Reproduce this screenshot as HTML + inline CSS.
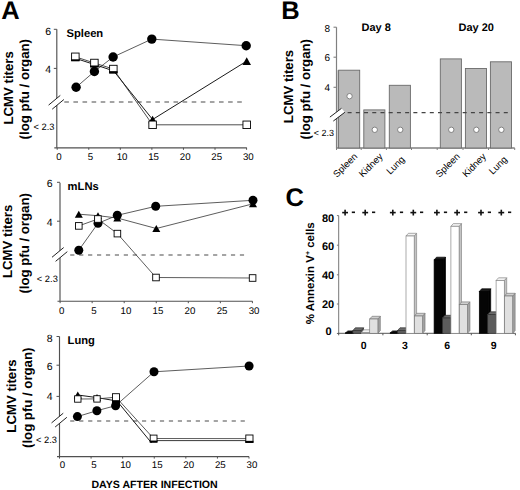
<!DOCTYPE html>
<html><head><meta charset="utf-8"><style>
html,body{margin:0;padding:0;background:#fff;}
svg{display:block;font-family:"Liberation Sans", sans-serif;text-rendering:geometricPrecision;}
</style></head><body>
<svg width="520" height="490" viewBox="0 0 520 490">
<rect width="520" height="490" fill="#fff"/>
<text x="1.30" y="18.70" font-size="25.5" font-weight="bold" text-anchor="start" fill="#000" >A</text>
<line x1="56.80" y1="29.30" x2="56.80" y2="147.80" stroke="#505050" stroke-width="1.15" />
<line x1="53.80" y1="29.30" x2="56.80" y2="29.30" stroke="#505050" stroke-width="1" />
<text x="51.00" y="35.40" font-size="10.5" font-weight="normal" text-anchor="end" fill="#000" >6</text>
<line x1="53.80" y1="68.40" x2="56.80" y2="68.40" stroke="#505050" stroke-width="1" />
<text x="51.00" y="72.80" font-size="10.5" font-weight="normal" text-anchor="end" fill="#000" >4</text>
<line x1="54.30" y1="147.80" x2="246.80" y2="147.80" stroke="#505050" stroke-width="1.15" />
<line x1="57.20" y1="147.80" x2="57.20" y2="149.80" stroke="#505050" stroke-width="1" />
<text x="58.90" y="159.70" font-size="9.7" font-weight="normal" text-anchor="middle" fill="#000" >0</text>
<line x1="88.77" y1="147.80" x2="88.77" y2="149.80" stroke="#505050" stroke-width="1" />
<text x="90.47" y="159.70" font-size="9.7" font-weight="normal" text-anchor="middle" fill="#000" >5</text>
<line x1="120.33" y1="147.80" x2="120.33" y2="149.80" stroke="#505050" stroke-width="1" />
<text x="122.03" y="159.70" font-size="9.7" font-weight="normal" text-anchor="middle" fill="#000" >10</text>
<line x1="151.89" y1="147.80" x2="151.89" y2="149.80" stroke="#505050" stroke-width="1" />
<text x="153.59" y="159.70" font-size="9.7" font-weight="normal" text-anchor="middle" fill="#000" >15</text>
<line x1="183.46" y1="147.80" x2="183.46" y2="149.80" stroke="#505050" stroke-width="1" />
<text x="185.16" y="159.70" font-size="9.7" font-weight="normal" text-anchor="middle" fill="#000" >20</text>
<line x1="215.02" y1="147.80" x2="215.02" y2="149.80" stroke="#505050" stroke-width="1" />
<text x="216.72" y="159.70" font-size="9.7" font-weight="normal" text-anchor="middle" fill="#000" >25</text>
<line x1="246.59" y1="147.80" x2="246.59" y2="149.80" stroke="#505050" stroke-width="1" />
<text x="248.29" y="159.70" font-size="9.7" font-weight="normal" text-anchor="middle" fill="#000" >30</text>
<line x1="64.30" y1="102.00" x2="244.50" y2="102.00" stroke="#4a4a4a" stroke-width="1.2" stroke-dasharray="4.6 4.5"/>
<polygon points="48.60,105.10 60.30,95.40 63.90,99.50 52.20,109.20" fill="#fff" stroke="none" stroke-width="1"/>
<line x1="48.60" y1="105.10" x2="60.30" y2="95.40" stroke="#222" stroke-width="1.0" />
<line x1="52.20" y1="109.20" x2="63.90" y2="99.50" stroke="#222" stroke-width="1.0" />
<text x="54.50" y="130.40" font-size="9.3" font-weight="normal" text-anchor="end" fill="#000" >&lt; 2.3</text>
<text x="66.50" y="37.30" font-size="11.2" font-weight="bold" text-anchor="start" fill="#000" >Spleen</text>
<text x="12.80" y="87.85" font-size="13.2" font-weight="bold" text-anchor="middle" fill="#000" transform="rotate(-90 12.80 87.85)" >LCMV titers</text>
<text x="28.50" y="89.25" font-size="13.2" font-weight="bold" text-anchor="middle" fill="#000" transform="rotate(-90 28.50 89.25)" >(log pfu / organ)</text>
<polyline points="76.10,87.30 94.40,71.50 113.10,57.00 151.80,39.10 246.20,45.70" fill="none" stroke="#333" stroke-width="0.8" stroke-linejoin="round"/>
<polyline points="75.35,58.30 94.40,64.50 113.60,70.90 152.60,119.50 246.70,61.10" fill="none" stroke="#000" stroke-width="0.9" stroke-linejoin="round"/>
<polyline points="75.35,56.80 94.40,63.00 113.35,69.05 152.60,124.80 246.70,124.80" fill="none" stroke="#222" stroke-width="0.8" stroke-linejoin="round"/>
<polygon points="152.60,115.70 156.90,123.30 148.30,123.30" fill="#000" stroke="none" stroke-width="1"/>
<polygon points="246.70,57.30 251.00,64.90 242.40,64.90" fill="#000" stroke="none" stroke-width="1"/>
<rect x="71.60" y="53.05" width="7.5" height="7.5" fill="#fff" stroke="#000" stroke-width="0.9"/>
<rect x="71.15" y="59.30" width="8.40" height="2.00" fill="#000"/>
<rect x="90.65" y="59.25" width="7.5" height="7.5" fill="#fff" stroke="#000" stroke-width="0.9"/>
<rect x="90.20" y="65.50" width="8.40" height="2.00" fill="#000"/>
<rect x="109.60" y="65.30" width="7.5" height="7.5" fill="#fff" stroke="#000" stroke-width="0.9"/>
<rect x="109.15" y="71.15" width="8.40" height="2.40" fill="#000"/>
<rect x="148.85" y="121.05" width="7.5" height="7.5" fill="#fff" stroke="#000" stroke-width="0.9"/>
<rect x="242.95" y="121.05" width="7.5" height="7.5" fill="#fff" stroke="#000" stroke-width="0.9"/>
<circle cx="76.10" cy="87.30" r="4.7" fill="#000" stroke="none" stroke-width="1"/>
<circle cx="94.40" cy="71.50" r="4.7" fill="#000" stroke="none" stroke-width="1"/>
<circle cx="113.10" cy="57.00" r="4.7" fill="#000" stroke="none" stroke-width="1"/>
<circle cx="151.80" cy="39.10" r="4.7" fill="#000" stroke="none" stroke-width="1"/>
<circle cx="246.20" cy="45.70" r="4.7" fill="#000" stroke="none" stroke-width="1"/>
<line x1="60.00" y1="182.70" x2="60.00" y2="301.20" stroke="#505050" stroke-width="1.15" />
<line x1="57.00" y1="182.30" x2="60.00" y2="182.30" stroke="#505050" stroke-width="1" />
<text x="52.70" y="186.80" font-size="10.5" font-weight="normal" text-anchor="end" fill="#000" >6</text>
<line x1="57.00" y1="221.20" x2="60.00" y2="221.20" stroke="#505050" stroke-width="1" />
<text x="52.70" y="226.10" font-size="10.5" font-weight="normal" text-anchor="end" fill="#000" >4</text>
<line x1="57.50" y1="301.20" x2="252.50" y2="301.20" stroke="#505050" stroke-width="1.15" />
<line x1="60.10" y1="301.20" x2="60.10" y2="303.20" stroke="#505050" stroke-width="1" />
<text x="61.80" y="313.90" font-size="9.7" font-weight="normal" text-anchor="middle" fill="#000" >0</text>
<line x1="92.15" y1="301.20" x2="92.15" y2="303.20" stroke="#505050" stroke-width="1" />
<text x="93.85" y="313.90" font-size="9.7" font-weight="normal" text-anchor="middle" fill="#000" >5</text>
<line x1="124.20" y1="301.20" x2="124.20" y2="303.20" stroke="#505050" stroke-width="1" />
<text x="125.90" y="313.90" font-size="9.7" font-weight="normal" text-anchor="middle" fill="#000" >10</text>
<line x1="156.25" y1="301.20" x2="156.25" y2="303.20" stroke="#505050" stroke-width="1" />
<text x="157.95" y="313.90" font-size="9.7" font-weight="normal" text-anchor="middle" fill="#000" >15</text>
<line x1="188.30" y1="301.20" x2="188.30" y2="303.20" stroke="#505050" stroke-width="1" />
<text x="190.00" y="313.90" font-size="9.7" font-weight="normal" text-anchor="middle" fill="#000" >20</text>
<line x1="220.35" y1="301.20" x2="220.35" y2="303.20" stroke="#505050" stroke-width="1" />
<text x="222.05" y="313.90" font-size="9.7" font-weight="normal" text-anchor="middle" fill="#000" >25</text>
<line x1="252.40" y1="301.20" x2="252.40" y2="303.20" stroke="#505050" stroke-width="1" />
<text x="254.10" y="313.90" font-size="9.7" font-weight="normal" text-anchor="middle" fill="#000" >30</text>
<line x1="70.20" y1="255.00" x2="247.50" y2="255.00" stroke="#4a4a4a" stroke-width="1.2" stroke-dasharray="4.2 4.73"/>
<polygon points="52.00,257.25 63.70,247.55 67.30,251.65 55.60,261.35" fill="#fff" stroke="none" stroke-width="1"/>
<line x1="52.00" y1="257.25" x2="63.70" y2="247.55" stroke="#222" stroke-width="1.0" />
<line x1="55.60" y1="261.35" x2="67.30" y2="251.65" stroke="#222" stroke-width="1.0" />
<text x="57.80" y="282.20" font-size="9.3" font-weight="normal" text-anchor="end" fill="#000" >&lt; 2.3</text>
<text x="67.60" y="189.80" font-size="11.2" font-weight="bold" text-anchor="start" fill="#000" >mLNs</text>
<text x="12.30" y="241.40" font-size="13.2" font-weight="bold" text-anchor="middle" fill="#000" transform="rotate(-90 12.30 241.40)" >LCMV titers</text>
<text x="28.70" y="243.35" font-size="13.2" font-weight="bold" text-anchor="middle" fill="#000" transform="rotate(-90 28.70 243.35)" >(log pfu / organ)</text>
<polyline points="78.80,250.20 98.00,223.30 117.30,215.30 155.70,206.30 253.00,200.30" fill="none" stroke="#333" stroke-width="0.8" stroke-linejoin="round"/>
<polyline points="78.80,214.20 98.00,215.70 117.30,218.00 156.30,228.50 253.00,203.80" fill="none" stroke="#333" stroke-width="0.8" stroke-linejoin="round"/>
<polyline points="78.80,225.90 97.90,219.00 117.40,233.60 156.00,277.50 252.60,278.00" fill="none" stroke="#333" stroke-width="0.8" stroke-linejoin="round"/>
<polygon points="78.80,210.70 82.80,217.70 74.80,217.70" fill="#000" stroke="none" stroke-width="1"/>
<polygon points="98.00,212.20 102.00,219.20 94.00,219.20" fill="#000" stroke="none" stroke-width="1"/>
<polygon points="117.30,214.50 121.30,221.50 113.30,221.50" fill="#000" stroke="none" stroke-width="1"/>
<polygon points="156.30,225.00 160.30,232.00 152.30,232.00" fill="#000" stroke="none" stroke-width="1"/>
<polygon points="253.00,200.30 257.00,207.30 249.00,207.30" fill="#000" stroke="none" stroke-width="1"/>
<circle cx="78.80" cy="250.20" r="4.5" fill="#000" stroke="none" stroke-width="1"/>
<circle cx="98.00" cy="223.30" r="4.5" fill="#000" stroke="none" stroke-width="1"/>
<circle cx="117.30" cy="215.30" r="4.5" fill="#000" stroke="none" stroke-width="1"/>
<circle cx="155.70" cy="206.30" r="4.5" fill="#000" stroke="none" stroke-width="1"/>
<circle cx="253.00" cy="200.30" r="4.5" fill="#000" stroke="none" stroke-width="1"/>
<rect x="75.50" y="222.60" width="6.6" height="6.6" fill="#fff" stroke="#000" stroke-width="0.9"/>
<rect x="94.60" y="215.70" width="6.6" height="6.6" fill="#fff" stroke="#000" stroke-width="0.9"/>
<rect x="114.10" y="230.30" width="6.6" height="6.6" fill="#fff" stroke="#000" stroke-width="0.9"/>
<rect x="152.70" y="274.20" width="6.6" height="6.6" fill="#fff" stroke="#000" stroke-width="0.9"/>
<rect x="249.30" y="274.70" width="6.6" height="6.6" fill="#fff" stroke="#000" stroke-width="0.9"/>
<line x1="59.50" y1="336.50" x2="59.50" y2="456.60" stroke="#505050" stroke-width="1.15" />
<line x1="56.50" y1="336.50" x2="59.50" y2="336.50" stroke="#505050" stroke-width="1" />
<text x="52.70" y="341.90" font-size="10.5" font-weight="normal" text-anchor="end" fill="#000" >8</text>
<line x1="56.50" y1="365.20" x2="59.50" y2="365.20" stroke="#505050" stroke-width="1" />
<text x="52.70" y="370.10" font-size="10.5" font-weight="normal" text-anchor="end" fill="#000" >6</text>
<line x1="56.50" y1="396.40" x2="59.50" y2="396.40" stroke="#505050" stroke-width="1" />
<text x="52.70" y="400.30" font-size="10.5" font-weight="normal" text-anchor="end" fill="#000" >4</text>
<line x1="57.00" y1="456.60" x2="249.00" y2="456.60" stroke="#505050" stroke-width="1.15" />
<line x1="59.50" y1="456.60" x2="59.50" y2="458.60" stroke="#505050" stroke-width="1" />
<text x="62.40" y="468.40" font-size="9.7" font-weight="normal" text-anchor="middle" fill="#000" >0</text>
<line x1="91.09" y1="456.60" x2="91.09" y2="458.60" stroke="#505050" stroke-width="1" />
<text x="93.99" y="468.40" font-size="9.7" font-weight="normal" text-anchor="middle" fill="#000" >5</text>
<line x1="122.67" y1="456.60" x2="122.67" y2="458.60" stroke="#505050" stroke-width="1" />
<text x="125.57" y="468.40" font-size="9.7" font-weight="normal" text-anchor="middle" fill="#000" >10</text>
<line x1="154.25" y1="456.60" x2="154.25" y2="458.60" stroke="#505050" stroke-width="1" />
<text x="157.16" y="468.40" font-size="9.7" font-weight="normal" text-anchor="middle" fill="#000" >15</text>
<line x1="185.84" y1="456.60" x2="185.84" y2="458.60" stroke="#505050" stroke-width="1" />
<text x="188.74" y="468.40" font-size="9.7" font-weight="normal" text-anchor="middle" fill="#000" >20</text>
<line x1="217.43" y1="456.60" x2="217.43" y2="458.60" stroke="#505050" stroke-width="1" />
<text x="220.33" y="468.40" font-size="9.7" font-weight="normal" text-anchor="middle" fill="#000" >25</text>
<line x1="249.01" y1="456.60" x2="249.01" y2="458.60" stroke="#505050" stroke-width="1" />
<text x="251.91" y="468.40" font-size="9.7" font-weight="normal" text-anchor="middle" fill="#000" >30</text>
<line x1="70.20" y1="421.00" x2="245.70" y2="421.00" stroke="#4a4a4a" stroke-width="1.2" stroke-dasharray="4.2 4.77"/>
<polygon points="51.55,422.90 63.25,413.20 66.85,417.30 55.15,427.00" fill="#fff" stroke="none" stroke-width="1"/>
<line x1="51.55" y1="422.90" x2="63.25" y2="413.20" stroke="#222" stroke-width="1.0" />
<line x1="55.15" y1="427.00" x2="66.85" y2="417.30" stroke="#222" stroke-width="1.0" />
<text x="56.90" y="443.00" font-size="9.3" font-weight="normal" text-anchor="end" fill="#000" >&lt; 2.3</text>
<text x="67.60" y="344.00" font-size="11.2" font-weight="bold" text-anchor="start" fill="#000" >Lung</text>
<text x="16.40" y="396.00" font-size="13.2" font-weight="bold" text-anchor="middle" fill="#000" transform="rotate(-90 16.40 396.00)" >LCMV titers</text>
<text x="32.30" y="397.80" font-size="13.2" font-weight="bold" text-anchor="middle" fill="#000" transform="rotate(-90 32.30 397.80)" >(log pfu / organ)</text>
<polyline points="77.40,416.60 96.90,410.70 115.60,405.70 154.00,371.80 249.10,366.00" fill="none" stroke="#333" stroke-width="0.8" stroke-linejoin="round"/>
<polyline points="77.80,395.00 97.00,397.60 117.00,401.00 151.60,443.00" fill="none" stroke="#000" stroke-width="0.9" stroke-linejoin="round"/>
<polyline points="153.60,440.60 249.40,440.60" fill="none" stroke="#222" stroke-width="0.9" stroke-linejoin="round"/>
<polyline points="77.80,399.00 97.00,398.90 116.00,397.20 153.60,438.50 249.40,438.60" fill="none" stroke="#333" stroke-width="0.8" stroke-linejoin="round"/>
<polygon points="77.80,391.50 81.80,398.50 73.80,398.50" fill="#000" stroke="none" stroke-width="1"/>
<polygon points="97.00,394.10 101.00,401.10 93.00,401.10" fill="#000" stroke="none" stroke-width="1"/>
<circle cx="77.40" cy="416.60" r="4.5" fill="#000" stroke="none" stroke-width="1"/>
<circle cx="96.90" cy="410.70" r="4.5" fill="#000" stroke="none" stroke-width="1"/>
<circle cx="115.60" cy="405.70" r="4.5" fill="#000" stroke="none" stroke-width="1"/>
<circle cx="154.00" cy="371.80" r="4.5" fill="#000" stroke="none" stroke-width="1"/>
<circle cx="249.10" cy="366.00" r="4.5" fill="#000" stroke="none" stroke-width="1"/>
<rect x="112" y="399.6" width="8" height="5.5" fill="#000"/>
<rect x="74.60" y="395.80" width="6.4" height="6.4" fill="#fff" stroke="#000" stroke-width="0.9"/>
<rect x="93.80" y="395.70" width="6.4" height="6.4" fill="#fff" stroke="#000" stroke-width="0.9"/>
<rect x="112.50" y="393.70" width="7.0" height="7.0" fill="#fff" stroke="#000" stroke-width="0.9"/>
<rect x="150.20" y="435.10" width="6.8" height="6.8" fill="#fff" stroke="#000" stroke-width="0.9"/>
<rect x="149.75" y="440.55" width="7.70" height="2.10" fill="#000"/>
<rect x="245.80" y="435.00" width="7.2" height="7.2" fill="#fff" stroke="#000" stroke-width="0.9"/>
<rect x="245.35" y="440.85" width="8.10" height="2.10" fill="#000"/>
<text x="91.40" y="487.90" font-size="10.6" font-weight="bold" text-anchor="start" fill="#000" >DAYS AFTER INFECTION</text>
<text x="281.30" y="18.60" font-size="25.5" font-weight="bold" text-anchor="start" fill="#000" >B</text>
<rect x="336.50" y="70.2" width="2.3" height="77.8" fill="#d0d0d0"/>
<line x1="336.50" y1="27.20" x2="336.50" y2="148.50" stroke="#808080" stroke-width="1.2" />
<line x1="333.50" y1="27.20" x2="336.50" y2="27.20" stroke="#808080" stroke-width="1.1" />
<text x="330.00" y="31.80" font-size="10" font-weight="normal" text-anchor="end" fill="#000" >8</text>
<line x1="333.50" y1="57.20" x2="336.50" y2="57.20" stroke="#808080" stroke-width="1.1" />
<text x="330.00" y="60.80" font-size="10" font-weight="normal" text-anchor="end" fill="#000" >6</text>
<line x1="333.50" y1="87.30" x2="336.50" y2="87.30" stroke="#808080" stroke-width="1.1" />
<text x="330.00" y="90.80" font-size="10" font-weight="normal" text-anchor="end" fill="#000" >4</text>
<line x1="336.50" y1="148.00" x2="514.70" y2="148.00" stroke="#808080" stroke-width="1.3" />
<line x1="336.50" y1="148.00" x2="336.50" y2="150.00" stroke="#808080" stroke-width="1" />
<line x1="361.20" y1="148.00" x2="361.20" y2="150.00" stroke="#808080" stroke-width="1" />
<line x1="386.40" y1="148.00" x2="386.40" y2="150.00" stroke="#808080" stroke-width="1" />
<line x1="411.50" y1="148.00" x2="411.50" y2="150.00" stroke="#808080" stroke-width="1" />
<line x1="437.20" y1="148.00" x2="437.20" y2="150.00" stroke="#808080" stroke-width="1" />
<line x1="463.00" y1="148.00" x2="463.00" y2="150.00" stroke="#808080" stroke-width="1" />
<line x1="488.50" y1="148.00" x2="488.50" y2="150.00" stroke="#808080" stroke-width="1" />
<line x1="514.70" y1="148.00" x2="514.70" y2="150.00" stroke="#808080" stroke-width="1" />
<rect x="338.60" y="70.20" width="21.1" height="77.80" fill="#bababa" stroke="#6a6a6a" stroke-width="0.9"/>
<circle cx="349.55" cy="96.20" r="2.7" fill="#fff" stroke="#777" stroke-width="0.9"/>
<rect x="363.80" y="109.90" width="21.1" height="38.10" fill="#bababa" stroke="#6a6a6a" stroke-width="0.9"/>
<circle cx="374.75" cy="129.80" r="2.7" fill="#fff" stroke="#777" stroke-width="0.9"/>
<rect x="389.30" y="85.30" width="21.1" height="62.70" fill="#bababa" stroke="#6a6a6a" stroke-width="0.9"/>
<circle cx="400.25" cy="129.80" r="2.7" fill="#fff" stroke="#777" stroke-width="0.9"/>
<rect x="440.30" y="58.90" width="21.1" height="89.10" fill="#bababa" stroke="#6a6a6a" stroke-width="0.9"/>
<circle cx="451.25" cy="129.80" r="2.7" fill="#fff" stroke="#777" stroke-width="0.9"/>
<rect x="465.40" y="68.50" width="21.1" height="79.50" fill="#bababa" stroke="#6a6a6a" stroke-width="0.9"/>
<circle cx="476.35" cy="129.80" r="2.7" fill="#fff" stroke="#777" stroke-width="0.9"/>
<rect x="490.40" y="61.80" width="21.1" height="86.20" fill="#bababa" stroke="#6a6a6a" stroke-width="0.9"/>
<circle cx="501.35" cy="129.80" r="2.7" fill="#fff" stroke="#777" stroke-width="0.9"/>
<line x1="347.60" y1="112.70" x2="509.40" y2="112.70" stroke="#444" stroke-width="1.3" stroke-dasharray="4.0 4.22"/>
<polygon points="329.90,117.10 341.50,108.30 344.90,112.25 333.30,121.05" fill="#fff" stroke="none" stroke-width="1"/>
<line x1="329.90" y1="117.10" x2="341.50" y2="108.30" stroke="#222" stroke-width="1.0" />
<line x1="333.30" y1="121.05" x2="344.90" y2="112.25" stroke="#222" stroke-width="1.0" />
<text x="334.00" y="136.20" font-size="9" font-weight="normal" text-anchor="end" fill="#000" >&lt; 2.3</text>
<text x="361.50" y="31.30" font-size="11" font-weight="bold" text-anchor="start" fill="#000" >Day 8</text>
<text x="458.50" y="30.50" font-size="11" font-weight="bold" text-anchor="start" fill="#000" >Day 20</text>
<text x="347.45" y="167.50" font-size="9.5" font-weight="normal" text-anchor="middle" fill="#000" transform="rotate(-45 347.45 167.50)" >Spleen</text>
<text x="373.15" y="167.50" font-size="9.5" font-weight="normal" text-anchor="middle" fill="#000" transform="rotate(-45 373.15 167.50)" >Kidney</text>
<text x="397.65" y="167.50" font-size="9.5" font-weight="normal" text-anchor="middle" fill="#000" transform="rotate(-45 397.65 167.50)" >Lung</text>
<text x="449.95" y="167.50" font-size="9.5" font-weight="normal" text-anchor="middle" fill="#000" transform="rotate(-45 449.95 167.50)" >Spleen</text>
<text x="476.45" y="167.50" font-size="9.5" font-weight="normal" text-anchor="middle" fill="#000" transform="rotate(-45 476.45 167.50)" >Kidney</text>
<text x="500.25" y="167.50" font-size="9.5" font-weight="normal" text-anchor="middle" fill="#000" transform="rotate(-45 500.25 167.50)" >Lung</text>
<text x="293.30" y="86.50" font-size="13.2" font-weight="bold" text-anchor="middle" fill="#000" transform="rotate(-90 293.30 86.50)" >LCMV titers</text>
<text x="309.80" y="89.20" font-size="13.2" font-weight="bold" text-anchor="middle" fill="#000" transform="rotate(-90 309.80 89.20)" >(log pfu / organ)</text>
<text x="285.50" y="205.70" font-size="25.5" font-weight="bold" text-anchor="start" fill="#000" >C</text>
<line x1="338.70" y1="215.60" x2="338.70" y2="333.50" stroke="#777" stroke-width="1" />
<line x1="336.90" y1="215.60" x2="338.70" y2="215.60" stroke="#777" stroke-width="1" />
<text x="334.20" y="222.20" font-size="11" font-weight="bold" text-anchor="end" fill="#000" >80</text>
<line x1="336.90" y1="245.20" x2="338.70" y2="245.20" stroke="#777" stroke-width="1" />
<text x="334.20" y="249.80" font-size="11" font-weight="bold" text-anchor="end" fill="#000" >60</text>
<line x1="336.90" y1="274.80" x2="338.70" y2="274.80" stroke="#777" stroke-width="1" />
<text x="334.20" y="278.70" font-size="11" font-weight="bold" text-anchor="end" fill="#000" >40</text>
<line x1="336.90" y1="304.00" x2="338.70" y2="304.00" stroke="#777" stroke-width="1" />
<text x="334.20" y="308.30" font-size="11" font-weight="bold" text-anchor="end" fill="#000" >20</text>
<line x1="336.90" y1="333.50" x2="338.70" y2="333.50" stroke="#777" stroke-width="1" />
<text x="331.50" y="335.20" font-size="11" font-weight="bold" text-anchor="end" fill="#000" >0</text>
<line x1="337.70" y1="333.30" x2="515.40" y2="333.30" stroke="#555" stroke-width="1" />
<line x1="338.70" y1="333.30" x2="338.70" y2="335.30" stroke="#555" stroke-width="1" />
<line x1="382.90" y1="333.30" x2="382.90" y2="335.30" stroke="#555" stroke-width="1" />
<line x1="427.20" y1="333.30" x2="427.20" y2="335.30" stroke="#555" stroke-width="1" />
<line x1="471.30" y1="333.30" x2="471.30" y2="335.30" stroke="#555" stroke-width="1" />
<line x1="515.40" y1="333.30" x2="515.40" y2="335.30" stroke="#555" stroke-width="1" />
<text x="363.60" y="349.00" font-size="10.5" font-weight="bold" text-anchor="middle" fill="#000" >0</text>
<text x="404.80" y="349.00" font-size="10.5" font-weight="bold" text-anchor="middle" fill="#000" >3</text>
<text x="447.10" y="349.00" font-size="10.5" font-weight="bold" text-anchor="middle" fill="#000" >6</text>
<text x="493.60" y="349.00" font-size="10.5" font-weight="bold" text-anchor="middle" fill="#000" >9</text>
<rect x="342.20" y="211.80" width="5.8" height="1.6" fill="#111"/>
<rect x="344.30" y="209.70" width="1.6" height="5.8" fill="#111"/>
<rect x="362.30" y="211.80" width="5.8" height="1.6" fill="#111"/>
<rect x="364.40" y="209.70" width="1.6" height="5.8" fill="#111"/>
<rect x="389.90" y="211.80" width="5.8" height="1.6" fill="#111"/>
<rect x="392.00" y="209.70" width="1.6" height="5.8" fill="#111"/>
<rect x="410.40" y="211.80" width="5.8" height="1.6" fill="#111"/>
<rect x="412.50" y="209.70" width="1.6" height="5.8" fill="#111"/>
<rect x="434.00" y="211.80" width="5.8" height="1.6" fill="#111"/>
<rect x="436.10" y="209.70" width="1.6" height="5.8" fill="#111"/>
<rect x="454.20" y="211.80" width="5.8" height="1.6" fill="#111"/>
<rect x="456.30" y="209.70" width="1.6" height="5.8" fill="#111"/>
<rect x="478.10" y="211.80" width="5.8" height="1.6" fill="#111"/>
<rect x="480.20" y="209.70" width="1.6" height="5.8" fill="#111"/>
<rect x="498.40" y="211.80" width="5.8" height="1.6" fill="#111"/>
<rect x="500.50" y="209.70" width="1.6" height="5.8" fill="#111"/>
<rect x="351.80" y="211.50" width="3.2" height="1.6" fill="#111"/>
<rect x="372.00" y="211.50" width="3.2" height="1.6" fill="#111"/>
<rect x="399.90" y="211.50" width="3.2" height="1.6" fill="#111"/>
<rect x="420.00" y="211.50" width="3.2" height="1.6" fill="#111"/>
<rect x="443.90" y="211.50" width="3.2" height="1.6" fill="#111"/>
<rect x="464.10" y="211.50" width="3.2" height="1.6" fill="#111"/>
<rect x="487.80" y="211.50" width="3.2" height="1.6" fill="#111"/>
<rect x="508.00" y="211.50" width="3.2" height="1.6" fill="#111"/>
<text x="313.9" y="273.3" font-size="11.5" font-weight="bold" text-anchor="middle" transform="rotate(-90 313.9 273.3)">% Annexin V<tspan font-size="7" dy="-4">+</tspan><tspan dy="4"> cells</tspan></text>
<polygon points="353.30,332.90 355.70,330.90 355.70,331.30 353.30,333.30" fill="#000" stroke="#000" stroke-width="0.7"/>
<polygon points="345.50,332.90 347.90,330.90 355.70,330.90 353.30,332.90" fill="#1a1a1a" stroke="#000" stroke-width="0.7"/>
<rect x="345.50" y="332.90" width="7.8" height="0.40" fill="#050505" stroke="#000" stroke-width="0.7"/>
<polygon points="361.10,330.50 363.50,327.80 363.50,330.60 361.10,333.30" fill="#444" stroke="#333" stroke-width="0.7"/>
<polygon points="352.90,330.50 355.30,327.80 363.50,327.80 361.10,330.50" fill="#6a6a6a" stroke="#333" stroke-width="0.7"/>
<rect x="352.90" y="330.50" width="8.2" height="2.80" fill="#5c5c5c" stroke="#333" stroke-width="0.7"/>
<polygon points="369.50,332.50 371.90,329.80 371.90,330.60 369.50,333.30" fill="#c4c4c4" stroke="#888" stroke-width="0.7"/>
<polygon points="361.30,332.50 363.70,329.80 371.90,329.80 369.50,332.50" fill="#f2f2f2" stroke="#888" stroke-width="0.7"/>
<rect x="361.30" y="332.50" width="8.2" height="0.80" fill="#fff" stroke="#888" stroke-width="0.7"/>
<polygon points="377.90,319.00 380.30,316.30 380.30,330.60 377.90,333.30" fill="#a4a4a4" stroke="#7a7a7a" stroke-width="0.7"/>
<polygon points="369.70,319.00 372.10,316.30 380.30,316.30 377.90,319.00" fill="#cfcfcf" stroke="#7a7a7a" stroke-width="0.7"/>
<rect x="369.70" y="319.00" width="8.2" height="14.30" fill="#e0e0e0" stroke="#7a7a7a" stroke-width="0.7"/>
<polygon points="398.00,332.90 400.40,330.90 400.40,331.30 398.00,333.30" fill="#000" stroke="#000" stroke-width="0.7"/>
<polygon points="390.20,332.90 392.60,330.90 400.40,330.90 398.00,332.90" fill="#1a1a1a" stroke="#000" stroke-width="0.7"/>
<rect x="390.20" y="332.90" width="7.8" height="0.40" fill="#050505" stroke="#000" stroke-width="0.7"/>
<polygon points="405.80,330.50 408.20,327.80 408.20,330.60 405.80,333.30" fill="#444" stroke="#333" stroke-width="0.7"/>
<polygon points="397.60,330.50 400.00,327.80 408.20,327.80 405.80,330.50" fill="#6a6a6a" stroke="#333" stroke-width="0.7"/>
<rect x="397.60" y="330.50" width="8.2" height="2.80" fill="#5c5c5c" stroke="#333" stroke-width="0.7"/>
<polygon points="414.20,236.00 416.60,233.30 416.60,330.60 414.20,333.30" fill="#c4c4c4" stroke="#888" stroke-width="0.7"/>
<polygon points="406.00,236.00 408.40,233.30 416.60,233.30 414.20,236.00" fill="#f2f2f2" stroke="#888" stroke-width="0.7"/>
<rect x="406.00" y="236.00" width="8.2" height="97.30" fill="#fff" stroke="#888" stroke-width="0.7"/>
<polygon points="422.60,316.00 425.00,313.30 425.00,330.60 422.60,333.30" fill="#a4a4a4" stroke="#7a7a7a" stroke-width="0.7"/>
<polygon points="414.40,316.00 416.80,313.30 425.00,313.30 422.60,316.00" fill="#cfcfcf" stroke="#7a7a7a" stroke-width="0.7"/>
<rect x="414.40" y="316.00" width="8.2" height="17.30" fill="#e0e0e0" stroke="#7a7a7a" stroke-width="0.7"/>
<polygon points="443.10,259.90 445.50,257.20 445.50,330.60 443.10,333.30" fill="#000" stroke="#000" stroke-width="0.7"/>
<polygon points="434.10,259.90 436.50,257.20 445.50,257.20 443.10,259.90" fill="#1a1a1a" stroke="#000" stroke-width="0.7"/>
<rect x="434.10" y="259.90" width="9.0" height="73.40" fill="#050505" stroke="#000" stroke-width="0.7"/>
<polygon points="450.70,318.00 453.10,315.30 453.10,330.60 450.70,333.30" fill="#444" stroke="#333" stroke-width="0.7"/>
<polygon points="442.50,318.00 444.90,315.30 453.10,315.30 450.70,318.00" fill="#6a6a6a" stroke="#333" stroke-width="0.7"/>
<rect x="442.50" y="318.00" width="8.2" height="15.30" fill="#5c5c5c" stroke="#333" stroke-width="0.7"/>
<polygon points="459.10,226.30 461.50,223.60 461.50,330.60 459.10,333.30" fill="#c4c4c4" stroke="#888" stroke-width="0.7"/>
<polygon points="450.90,226.30 453.30,223.60 461.50,223.60 459.10,226.30" fill="#f2f2f2" stroke="#888" stroke-width="0.7"/>
<rect x="450.90" y="226.30" width="8.2" height="107.00" fill="#fff" stroke="#888" stroke-width="0.7"/>
<polygon points="467.50,304.60 469.90,301.90 469.90,330.60 467.50,333.30" fill="#a4a4a4" stroke="#7a7a7a" stroke-width="0.7"/>
<polygon points="459.30,304.60 461.70,301.90 469.90,301.90 467.50,304.60" fill="#cfcfcf" stroke="#7a7a7a" stroke-width="0.7"/>
<rect x="459.30" y="304.60" width="8.2" height="28.70" fill="#e0e0e0" stroke="#7a7a7a" stroke-width="0.7"/>
<polygon points="488.30,291.50 490.70,288.80 490.70,330.60 488.30,333.30" fill="#000" stroke="#000" stroke-width="0.7"/>
<polygon points="479.30,291.50 481.70,288.80 490.70,288.80 488.30,291.50" fill="#1a1a1a" stroke="#000" stroke-width="0.7"/>
<rect x="479.30" y="291.50" width="9.0" height="41.80" fill="#050505" stroke="#000" stroke-width="0.7"/>
<polygon points="495.90,314.50 498.30,311.80 498.30,330.60 495.90,333.30" fill="#444" stroke="#333" stroke-width="0.7"/>
<polygon points="487.70,314.50 490.10,311.80 498.30,311.80 495.90,314.50" fill="#6a6a6a" stroke="#333" stroke-width="0.7"/>
<rect x="487.70" y="314.50" width="8.2" height="18.80" fill="#5c5c5c" stroke="#333" stroke-width="0.7"/>
<polygon points="504.30,280.50 506.70,277.80 506.70,330.60 504.30,333.30" fill="#c4c4c4" stroke="#888" stroke-width="0.7"/>
<polygon points="496.10,280.50 498.50,277.80 506.70,277.80 504.30,280.50" fill="#f2f2f2" stroke="#888" stroke-width="0.7"/>
<rect x="496.10" y="280.50" width="8.2" height="52.80" fill="#fff" stroke="#888" stroke-width="0.7"/>
<polygon points="512.70,296.00 515.10,293.30 515.10,330.60 512.70,333.30" fill="#a4a4a4" stroke="#7a7a7a" stroke-width="0.7"/>
<polygon points="504.50,296.00 506.90,293.30 515.10,293.30 512.70,296.00" fill="#cfcfcf" stroke="#7a7a7a" stroke-width="0.7"/>
<rect x="504.50" y="296.00" width="8.2" height="37.30" fill="#e0e0e0" stroke="#7a7a7a" stroke-width="0.7"/>
</svg></body></html>
